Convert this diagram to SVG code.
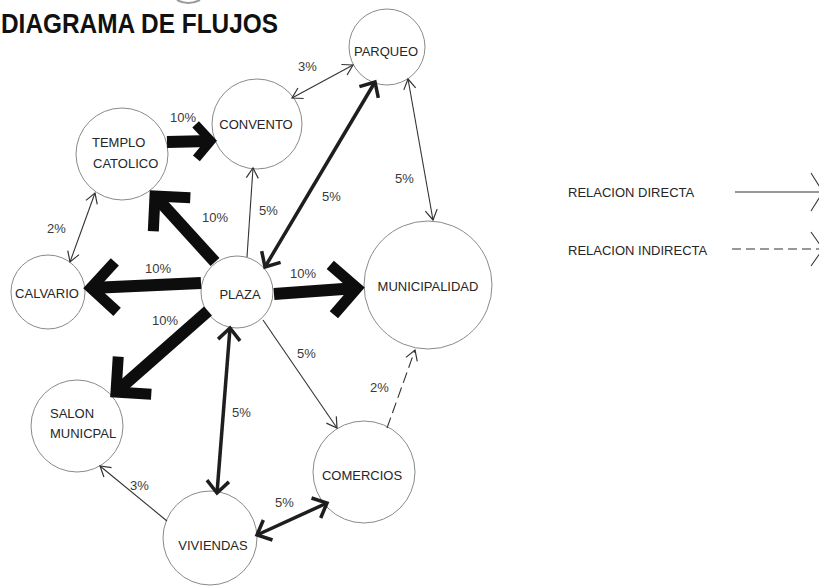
<svg xmlns="http://www.w3.org/2000/svg" width="819" height="587" viewBox="0 0 819 587">
<style>
.node circle{fill:#fff;stroke:#8a8a8a;stroke-width:1}
.lbl{font-family:"Liberation Sans",Arial,sans-serif;font-size:13px;fill:#262626}
.pct{font-family:"Liberation Sans",Arial,sans-serif;font-size:13px;fill:#3a3a3a}
.thin{stroke:#333;stroke-width:1.1;fill:none}
.dash{stroke:#333;stroke-width:1.1;fill:none;stroke-dasharray:11 5}
.med{stroke:#1e1e1e;stroke-width:3.5;fill:none}
.thick{stroke:#0d0d0d;stroke-width:12;fill:none}
</style>
<defs>
<marker id="aThin" viewBox="-12 -8 14 16" refX="0" refY="0" markerWidth="14" markerHeight="16" markerUnits="userSpaceOnUse" orient="auto-start-reverse"><path d="M-10,-6 L0,0 L-10,6" fill="none" stroke="#333" stroke-width="1.2"/></marker>
<marker id="aMed" viewBox="-16 -14 21 28" refX="0" refY="0" markerWidth="21" markerHeight="28" markerUnits="userSpaceOnUse" orient="auto-start-reverse"><path d="M-12,-11 L0,0 L-12,11" fill="none" stroke="#1e1e1e" stroke-width="3.5"/></marker>
<marker id="aThickL" viewBox="-34 -34 46 68" refX="0" refY="0" markerWidth="46" markerHeight="68" markerUnits="userSpaceOnUse" orient="auto"><path d="M-25,-25 L0,0 L-25,25" fill="none" stroke="#0d0d0d" stroke-width="11" stroke-linejoin="miter"/></marker>
<marker id="aThickS" viewBox="-24 -24 34 48" refX="0" refY="0" markerWidth="34" markerHeight="48" markerUnits="userSpaceOnUse" orient="auto"><path d="M-15,-17 L0,0 L-15,17" fill="none" stroke="#0d0d0d" stroke-width="9" stroke-linejoin="miter"/></marker>
</defs>
<rect width="819" height="587" fill="#fff"/>
<path d="M177,0 Q188,6 200,0" fill="none" stroke="#9a9a9a" stroke-width="2"/>
<text x="1" y="33" textLength="277" lengthAdjust="spacingAndGlyphs" style="font-family:'Liberation Sans',Arial,sans-serif;font-size:28px;font-weight:bold;fill:#111">DIAGRAMA DE FLUJOS</text>

<g id="nodes">
<g id="parqueo" class="node"><circle cx="387" cy="47" r="38"/><text class="lbl" x="386" y="56" text-anchor="middle">PARQUEO</text></g>
<g id="convento" class="node"><circle cx="257" cy="124" r="45"/><text class="lbl" x="256" y="129" text-anchor="middle">CONVENTO</text></g>
<g id="templo" class="node"><circle cx="122" cy="154" r="46"/><text class="lbl" x="92" y="147">TEMPLO</text><text class="lbl" x="93" y="168">CATOLICO</text></g>
<g id="calvario" class="node"><circle cx="48" cy="292" r="37"/><text class="lbl" x="47" y="298" text-anchor="middle">CALVARIO</text></g>
<g id="plaza" class="node"><circle cx="237" cy="292" r="36"/><text class="lbl" x="240" y="299" text-anchor="middle">PLAZA</text></g>
<g id="municipalidad" class="node"><circle cx="428" cy="285" r="64"/><text class="lbl" x="428" y="291" text-anchor="middle">MUNICIPALIDAD</text></g>
<g id="salon" class="node"><circle cx="77" cy="426" r="46"/><text class="lbl" x="50" y="418">SALON</text><text class="lbl" x="50" y="438">MUNICPAL</text></g>
<g id="comercios" class="node"><circle cx="364" cy="472" r="51"/><text class="lbl" x="362" y="480" text-anchor="middle">COMERCIOS</text></g>
<g id="viviendas" class="node"><circle cx="210" cy="538" r="47"/><text class="lbl" x="213" y="550" text-anchor="middle">VIVIENDAS</text></g>
</g>

<g id="connectors">
<line class="thick" x1="167" y1="142" x2="211" y2="141" marker-end="url(#aThickS)"/>
<line class="thick" x1="215" y1="262" x2="155" y2="196" marker-end="url(#aThickL)"/>
<line class="thick" x1="201" y1="283" x2="91" y2="288" marker-end="url(#aThickL)"/>
<line class="thick" x1="274" y1="294" x2="357" y2="288" marker-end="url(#aThickL)"/>
<line class="thick" x1="208" y1="311" x2="116" y2="392" marker-end="url(#aThickL)"/>
<line class="med" x1="265" y1="267" x2="375" y2="82" marker-start="url(#aMed)" marker-end="url(#aMed)"/>
<line class="med" x1="230" y1="328" x2="217" y2="493" marker-start="url(#aMed)" marker-end="url(#aMed)"/>
<line class="med" x1="257" y1="535" x2="327" y2="503" marker-start="url(#aMed)" marker-end="url(#aMed)"/>
<line class="thin" x1="247" y1="257" x2="253" y2="168" marker-end="url(#aThin)"/>
<line class="thin" x1="292" y1="98" x2="353" y2="65" marker-start="url(#aThin)" marker-end="url(#aThin)"/>
<line class="thin" x1="408" y1="79" x2="433" y2="220" marker-start="url(#aThin)" marker-end="url(#aThin)"/>
<line class="thin" x1="95" y1="193" x2="70" y2="262" marker-start="url(#aThin)" marker-end="url(#aThin)"/>
<line class="thin" x1="263" y1="320" x2="337" y2="428" marker-end="url(#aThin)"/>
<line class="dash" x1="387" y1="428" x2="415" y2="350" marker-end="url(#aThin)"/>
<line class="thin" x1="167" y1="521" x2="100" y2="466" marker-end="url(#aThin)"/>
</g>

<g id="percentages">
<text class="pct" x="298" y="71">3%</text>
<text class="pct" x="170" y="122">10%</text>
<text class="pct" x="202" y="222">10%</text>
<text class="pct" x="259" y="215">5%</text>
<text class="pct" x="322" y="201">5%</text>
<text class="pct" x="395" y="183">5%</text>
<text class="pct" x="47" y="233">2%</text>
<text class="pct" x="145" y="273">10%</text>
<text class="pct" x="152" y="325">10%</text>
<text class="pct" x="290" y="278">10%</text>
<text class="pct" x="297" y="358">5%</text>
<text class="pct" x="370" y="392">2%</text>
<text class="pct" x="232" y="417">5%</text>
<text class="pct" x="130" y="490">3%</text>
<text class="pct" x="275" y="507">5%</text>
</g>

<g id="legend">
<text class="lbl" x="568" y="197">RELACION DIRECTA</text>
<line class="thin" x1="735" y1="192" x2="822" y2="192"/>
<path class="thin" d="M811,173 L823,192 L811,211"/>
<text class="lbl" x="568" y="255">RELACION INDIRECTA</text>
<line class="thin" x1="732" y1="249" x2="820" y2="249" style="stroke-dasharray:9 5"/>
<path class="thin" d="M811,232 L823,249 L811,266"/>
</g>
</svg>
